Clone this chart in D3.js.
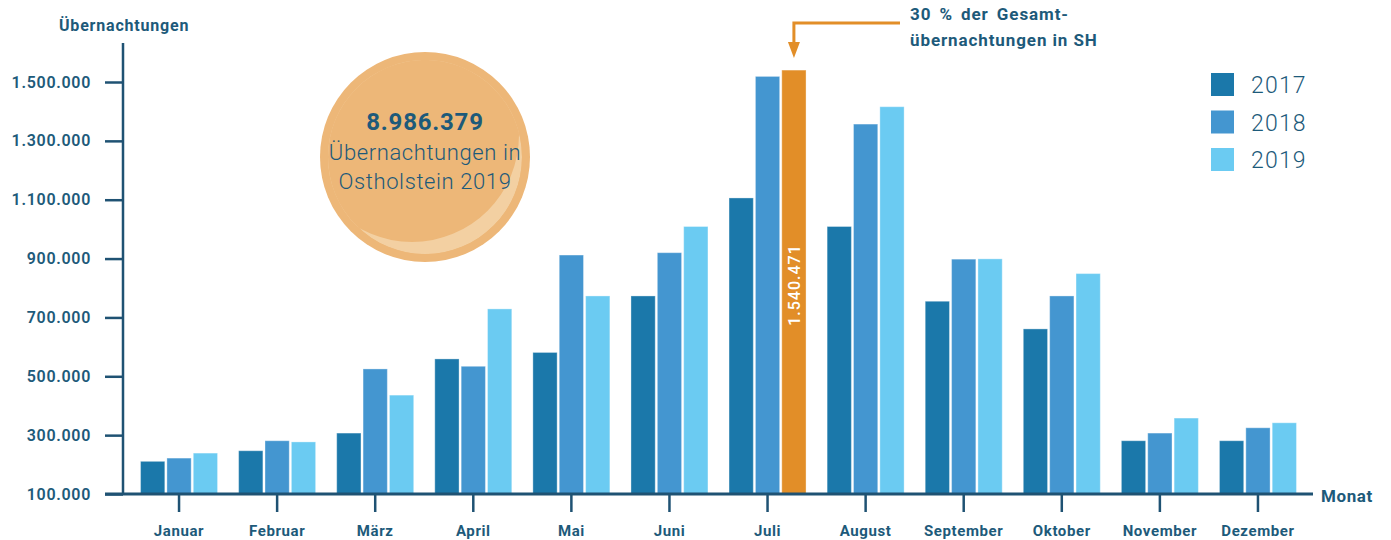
<!DOCTYPE html>
<html>
<head>
<meta charset="utf-8">
<script src="https://cdn.jsdelivr.net/npm/d3@7"></script>
<style>
  body { margin: 0; background: #fff; }
  svg text { font-family: Roboto, "Open Sans", sans-serif; fill: #1d5a7a; }
</style>
</head>
<body>
<svg id="chart" width="1391" height="540"></svg>
<script>
var months = ["Januar", "Februar", "März", "April", "Mai", "Juni", "Juli", "August", "September", "Oktober", "November", "Dezember"];
var years = ["2017", "2018", "2019"];

var values2017 = [211000, 247000, 307000, 559000, 581000, 773000, 1106000, 1009000, 755000, 661000, 281000, 281000];
var values2018 = [222000, 281000, 525000, 534000, 912000, 920000, 1519000, 1357000, 898000, 773000, 307000, 325000];
var values2019 = [239000, 277000, 436000, 729000, 773000, 1009000, 1540471, 1416000, 899000, 849000, 358000, 342000];

var yTicks = [100000, 300000, 500000, 700000, 900000, 1100000, 1300000, 1500000];

var totalLabel = "8.986.379";
var highlightMonth = "Juli", highlightYear = "2019";

var yearColors = d3.scaleOrdinal()
    .domain(years)
    .range(["#1b78aa", "#4496d0", "#6bcbf2"]);
var highlightColor = "#e28e28";
var axisColor = "#1f5273";

var de = d3.formatLocale({decimal: ",", thousands: ".", grouping: [3], currency: ["", " €"]});
var fmt = de.format(",d");

var svg = d3.select("#chart");

var series = {"2017": values2017, "2018": values2018, "2019": values2019};
var data = months.map(function(m, i) {
    return {month: m, values: years.map(function(y) { return {year: y, month: m, value: series[y][i]}; })};
});

var x0 = d3.scaleBand()
    .domain(months)
    .range([130, 1307])
    .paddingInner(0.215)
    .paddingOuter(0.1075);

var x1 = d3.scaleBand()
    .domain(years)
    .range([0, x0.bandwidth()])
    .paddingInner(0.08);

var y = d3.scaleLinear()
    .domain([100000, 1500000])
    .range([494, 82]);

// circle with total
var cx = 425, cy = 157, r = 105;
svg.append("defs").append("clipPath").attr("id", "ballClip")
    .append("circle").attr("cx", cx).attr("cy", cy).attr("r", r - 8);
svg.append("circle")
    .attr("cx", cx).attr("cy", cy).attr("r", r)
    .attr("fill", "#edb778");
var ring = d3.path();
ring.arc(cx, cy, r - 8, 0, 2 * Math.PI);
ring.moveTo(cx - 13 + r + 2, cy - 22);
ring.arc(cx - 13, cy - 22, r + 2, 0, 2 * Math.PI);
svg.append("path")
    .attr("d", ring.toString())
    .attr("fill-rule", "evenodd")
    .attr("clip-path", "url(#ballClip)")
    .attr("fill", "#f3d0a2");

svg.append("text")
    .attr("x", cx).attr("y", 130)
    .attr("text-anchor", "middle")
    .attr("font-size", 24).attr("font-weight", 700)
    .attr("letter-spacing", 0.8)
    .text(totalLabel);
svg.append("text")
    .attr("x", cx).attr("y", 160)
    .attr("text-anchor", "middle")
    .attr("font-size", 22).attr("font-weight", 300)
    .attr("letter-spacing", 0.6)
    .text("Übernachtungen in");
svg.append("text")
    .attr("x", cx).attr("y", 189)
    .attr("text-anchor", "middle")
    .attr("font-size", 22).attr("font-weight", 300)
    .attr("letter-spacing", 0.6)
    .text("Ostholstein 2019");

// bars
var groups = svg.append("g").selectAll("g")
    .data(data)
    .enter().append("g")
    .attr("transform", function(d) { return "translate(" + x0(d.month) + ",0)"; });

groups.selectAll("rect")
    .data(function(d) { return d.values; })
    .enter().append("rect")
    .attr("x", function(d) { return x1(d.year); })
    .attr("width", x1.bandwidth())
    .attr("y", function(d) { return y(d.value); })
    .attr("height", function(d) { return y(100000) - y(d.value); })
    .attr("fill", function(d) {
        return (d.month === highlightMonth && d.year === highlightYear) ? highlightColor : yearColors(d.year);
    })
    .attr("stroke", "#ffffff")
    .attr("stroke-opacity", 0.35)
    .attr("stroke-width", 1);

// value label in highlighted bar
var hi = data.filter(function(d) { return d.month === highlightMonth; })[0]
    .values.filter(function(v) { return v.year === highlightYear; })[0];
var hx = x0(highlightMonth) + x1(highlightYear) + x1.bandwidth() / 2;
svg.append("text")
    .attr("transform", "translate(" + (hx + 6) + ",285) rotate(-90)")
    .attr("text-anchor", "middle")
    .attr("font-size", 16).attr("font-weight", 500)
    .attr("letter-spacing", 1)
    .style("fill", "#ffffff")
    .text(fmt(hi.value));

// y axis
var yAxis = d3.axisLeft(y)
    .tickValues(yTicks)
    .tickFormat(fmt)
    .tickSize(18)
    .tickPadding(14);

var yG = svg.append("g")
    .attr("transform", "translate(123,0)")
    .call(yAxis);
yG.select(".domain").remove();
yG.selectAll(".tick line").attr("stroke", axisColor).attr("stroke-width", 2.5);
yG.selectAll(".tick text")
    .attr("font-size", 16).attr("font-weight", 600)
    .attr("letter-spacing", 0.7)
    .style("font-family", "Roboto, sans-serif")
    .style("fill", "#1d5a7a");

svg.append("line")
    .attr("x1", 123).attr("x2", 123)
    .attr("y1", 43).attr("y2", 494)
    .attr("stroke", axisColor).attr("stroke-width", 2.5);

// x axis
var xAxis = d3.axisBottom(x0)
    .tickSize(18)
    .tickPadding(13);
var xG = svg.append("g")
    .attr("transform", "translate(0,494)")
    .call(xAxis);
xG.select(".domain").remove();
xG.selectAll(".tick line").attr("stroke", axisColor).attr("stroke-width", 2.5);
xG.selectAll(".tick text")
    .attr("font-size", 15).attr("font-weight", 700)
    .attr("letter-spacing", 0.6)
    .style("font-family", "Roboto, sans-serif")
    .style("fill", "#1d5a7a");

svg.append("line")
    .attr("x1", 105).attr("x2", 1313)
    .attr("y1", 494).attr("y2", 494)
    .attr("stroke", axisColor).attr("stroke-width", 3);

// axis titles
svg.append("text")
    .attr("x", 59).attr("y", 31)
    .attr("font-size", 16).attr("font-weight", 700)
    .attr("letter-spacing", 0.8)
    .text("Übernachtungen");
svg.append("text")
    .attr("x", 1321).attr("y", 502)
    .attr("font-size", 17).attr("font-weight", 700)
    .attr("letter-spacing", 0.6)
    .text("Monat");

// annotation
var ax = hx;
svg.append("path")
    .attr("d", "M900,23 H" + ax + " V44")
    .attr("fill", "none")
    .attr("stroke", highlightColor)
    .attr("stroke-width", 3);
svg.append("path")
    .attr("d", "M" + (ax - 6) + ",42 L" + (ax + 6) + ",42 L" + ax + ",58 Z")
    .attr("fill", highlightColor);
svg.append("text")
    .attr("x", 910).attr("y", 20)
    .attr("font-size", 17).attr("font-weight", 700)
    .attr("letter-spacing", 0.9)
    .attr("word-spacing", 3)
    .text("30 % der Gesamt-");
svg.append("text")
    .attr("x", 910).attr("y", 46)
    .attr("font-size", 17).attr("font-weight", 700)
    .attr("letter-spacing", 0.9)
    .text("übernachtungen in SH");

// legend
var legend = svg.append("g").selectAll("g")
    .data(years)
    .enter().append("g")
    .attr("transform", function(d, i) { return "translate(1211," + (73 + i * 37.5) + ")"; });
legend.append("rect")
    .attr("width", 23).attr("height", 23)
    .attr("fill", yearColors);
legend.append("text")
    .attr("x", 40).attr("y", 20)
    .attr("font-size", 23).attr("font-weight", 300)
    .attr("letter-spacing", 1.2)
    .text(function(d) { return d; });
</script>
</body>
</html>
